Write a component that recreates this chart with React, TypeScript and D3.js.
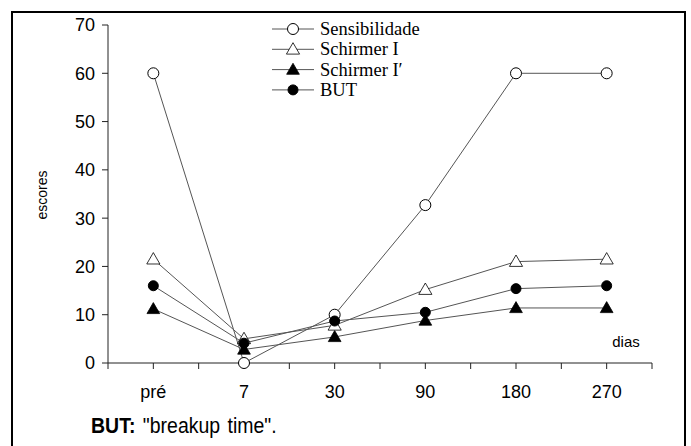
import React from "react";
import * as d3 from "d3";

// periods (x axis) and the four score series
const categories = ["pré", "7", "30", "90", "180", "270"];
const sensibilidade = [60, 0, 10, 32.7, 60, 60];
const schirmerI = [21.5, 5, 7.8, 15.2, 21, 21.5];
const schirmerI2 = [11.2, 2.8, 5.4, 8.8, 11.4, 11.4];
const but = [16, 4.1, 8.7, 10.5, 15.4, 16];
const yTicks = [0, 10, 20, 30, 40, 50, 60, 70];

type Marker = "openCircle" | "openTriangle" | "filledTriangle" | "filledCircle";

const series: { name: string; values: number[]; marker: Marker }[] = [
  { name: "Sensibilidade", values: sensibilidade, marker: "openCircle" },
  { name: "Schirmer I", values: schirmerI, marker: "openTriangle" },
  { name: "Schirmer I\u2032", values: schirmerI2, marker: "filledTriangle" },
  { name: "BUT", values: but, marker: "filledCircle" },
];

const W = 691;
const H = 446;
const left = 108;
const right = 652;
const top = 25;
const bottom = 363;

const sans = "'Liberation Sans', Arial, sans-serif";
const serif = "'Liberation Serif', 'Times New Roman', serif";

function filled(t: Marker) {
  return t === "filledTriangle" || t === "filledCircle";
}

const Symbol = ({ type, x, y }: { type: Marker; x: number; y: number }) => {
  if (type === "openCircle" || type === "filledCircle") {
    return (
      <circle
        cx={x}
        cy={y}
        r={filled(type) ? 5 : 5.5}
        fill={filled(type) ? "#000" : "#fff"}
        stroke="#000"
        strokeWidth={1}
      />
    );
  }
  const tri = d3.symbol(d3.symbolTriangle, filled(type) ? 70 : 75)();
  return (
    <path
      d={tri || ""}
      transform={`translate(${x},${y + 1})`}
      fill={filled(type) ? "#000" : "#fff"}
      stroke="#000"
      strokeWidth={0.8}
    />
  );
};

const App = () => {
  const x = d3.scaleBand<string>().domain(categories).range([left, right]);
  const bw = x.bandwidth();
  const cx = (c: string) => (x(c) ?? 0) + bw / 2;
  const y = d3.scaleLinear().domain([0, 70]).range([bottom, top]);

  const xTicks: number[] = [];
  categories.forEach((c) => {
    xTicks.push(x(c) ?? 0);
    xTicks.push(cx(c));
  });
  xTicks.push(right);

  const line = d3
    .line<number>()
    .x((_, i) => cx(categories[i]))
    .y((d) => y(d));

  return (
    <svg
      width={W}
      height={H}
      style={{ position: "absolute", left: 0, top: 0, background: "#fff" }}
    >
      <rect x={12} y={12} width={673} height={460} fill="none" stroke="#000" strokeWidth={2} />

      {/* axes */}
      <g stroke="#222" strokeWidth={1}>
        <line x1={left} x2={left} y1={top} y2={bottom} />
        {yTicks.map((t) => (
          <line key={t} x1={left - 6} x2={left} y1={y(t)} y2={y(t)} />
        ))}
        <line x1={left} x2={right} y1={bottom} y2={bottom} />
        {xTicks.map((t, i) => (
          <line key={i} x1={t} x2={t} y1={bottom} y2={bottom + 6} />
        ))}
      </g>

      <g fontFamily={sans} fontSize={18} fill="#000">
        {yTicks.map((t) => (
          <text key={t} x={95} y={y(t)} dy="0.36em" textAnchor="end">
            {t}
          </text>
        ))}
        {categories.map((c) => (
          <text key={c} x={cx(c)} y={398} textAnchor="middle">
            {c}
          </text>
        ))}
      </g>

      <text
        transform="translate(47,195) rotate(-90)"
        textAnchor="middle"
        fontFamily={sans}
        fontSize={14}
      >
        escores
      </text>
      <text x={626} y={347} textAnchor="middle" fontFamily={sans} fontSize={15}>
        dias
      </text>

      {/* series */}
      {series.map((s) => (
        <path key={s.name} d={line(s.values) || ""} fill="none" stroke="#555" strokeWidth={1} />
      ))}
      {series.map((s) =>
        s.values.map((v, i) => (
          <Symbol key={s.name + i} type={s.marker} x={cx(categories[i])} y={y(v)} />
        ))
      )}

      {/* legend */}
      {series.map((s, i) => {
        const ly = 29 + i * 20.3;
        return (
          <g key={s.name}>
            <line x1={272} x2={314} y1={ly} y2={ly} stroke="#555" strokeWidth={1} />
            <Symbol type={s.marker} x={293} y={ly} />
            <text x={320} y={ly + 6} fontFamily={serif} fontSize={18.5}>
              {s.name}
            </text>
          </g>
        );
      })}

      <text
        transform="translate(91,433) scale(1,1.1)"
        fontFamily={sans}
        fontSize={19.5}
        wordSpacing={2}
      >
        <tspan fontWeight="bold">BUT:</tspan> "breakup time".
      </text>
    </svg>
  );
};

export default App;
